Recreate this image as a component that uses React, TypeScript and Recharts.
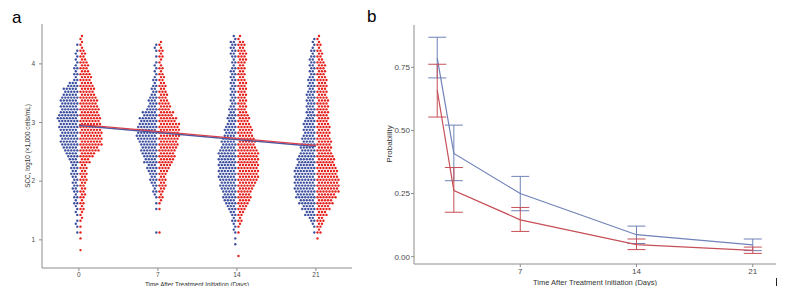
import React from 'react';
import {
  ScatterChart,
  Scatter,
  ComposedChart,
  Line,
  ErrorBar,
  XAxis,
  YAxis,
} from 'recharts';

// ---- panel a: SCC beeswarm, dots counted per 0.1 log10 band (lower edges 0.7 .. 4.4)
const days = [0, 7, 14, 21];
const binStart = 0.7;
const binStep = 0.1;

const day0Blue = [0, 0, 0, 0, 1, 2, 1, 2, 2, 3, 3, 4, 4, 4, 5, 5, 6, 8, 10, 12, 12, 12, 13, 14, 13, 12, 12, 11, 10, 7, 3, 3, 3, 2, 2, 1, 1, 0];
const day0Red = [0, 1, 0, 1, 1, 1, 2, 2, 3, 3, 4, 4, 4, 5, 5, 5, 7, 10, 13, 15, 15, 15, 14, 14, 13, 13, 12, 11, 10, 9, 8, 7, 6, 5, 4, 3, 2, 2];
const day7Blue = [0, 0, 0, 0, 1, 0, 0, 0, 1, 1, 2, 3, 4, 5, 6, 7, 9, 10, 11, 12, 14, 14, 13, 12, 10, 7, 6, 5, 4, 3, 3, 2, 2, 1, 1, 2, 1, 0];
const day7Red = [0, 0, 0, 0, 1, 0, 0, 0, 1, 2, 3, 4, 5, 5, 6, 8, 10, 11, 12, 13, 14, 14, 14, 12, 10, 8, 7, 6, 5, 5, 4, 3, 3, 2, 3, 3, 2, 0];
const day14Blue = [0, 0, 1, 1, 2, 2, 3, 4, 6, 8, 9, 10, 11, 12, 12, 12, 12, 12, 11, 10, 9, 8, 7, 6, 5, 5, 4, 4, 4, 4, 4, 4, 3, 3, 4, 4, 4, 2];
const day14Red = [1, 0, 0, 0, 1, 2, 3, 4, 6, 8, 9, 10, 12, 14, 14, 14, 14, 14, 13, 12, 11, 10, 9, 8, 7, 6, 6, 6, 6, 6, 5, 5, 5, 6, 6, 5, 5, 2];
const day21Blue = [0, 0, 0, 0, 1, 2, 4, 7, 9, 11, 13, 14, 14, 14, 14, 13, 12, 11, 10, 9, 9, 8, 8, 7, 6, 6, 6, 6, 5, 5, 5, 4, 4, 4, 3, 3, 2, 1];
const day21Red = [0, 0, 0, 1, 3, 4, 5, 7, 9, 11, 13, 15, 15, 15, 14, 13, 12, 11, 10, 10, 9, 9, 9, 8, 8, 8, 8, 7, 7, 7, 7, 6, 6, 5, 4, 3, 3, 2];

// fitted lines (day 0 and day 21)
const fitDays = [0, 21];
const blueFit = [2.95, 2.59];
const redFit = [2.97, 2.61];

// ---- panel b: probability with intervals
const probDays = [2, 3, 7, 14, 21];
const blueMean = [0.786, 0.409, 0.25, 0.087, 0.047];
const blueLow = [0.708, 0.301, 0.182, 0.052, 0.024];
const blueHigh = [0.869, 0.521, 0.318, 0.121, 0.07];
const redMean = [0.659, 0.262, 0.146, 0.048, 0.025];
const redLow = [0.553, 0.176, 0.1, 0.028, 0.013];
const redHigh = [0.762, 0.353, 0.195, 0.07, 0.038];

const BLUE_DOT = '#3d4f9f';
const RED_DOT = '#e5221d';
const BLUE_LINE = '#7082b8';
const RED_LINE = '#c64f58';
const AXIS = '#8c8c8c';
const TICK = '#4a4a4a';
const TITLE = '#333';

// spread the counted dots of each band into a half swarm (left = blue, right = red)
function swarm(countsByDay: number[][], side: number) {
  const pts: { x: number; y: number; dx: number }[] = [];
  countsByDay.forEach((counts, d) => {
    counts.forEach((n, i) => {
      const lo = binStart + i * binStep;
      for (let k = 0; k < n; k++) {
        const row = k % 2;
        const col = Math.floor(k / 2);
        pts.push({
          x: days[d],
          y: lo + binStep * (0.25 + 0.5 * row),
          dx: side * (1.6 + col * 3 + row * 1.5),
        });
      }
    });
  });
  return pts;
}

const bluePts = swarm([day0Blue, day7Blue, day14Blue, day21Blue], -1);
const redPts = swarm([day0Red, day7Red, day14Red, day21Red], 1);
const blueFitData = fitDays.map((x, i) => ({ x, y: blueFit[i] }));
const redFitData = fitDays.map((x, i) => ({ x, y: redFit[i] }));

const probData = probDays.map((day, i) => ({
  day,
  blue: blueMean[i],
  red: redMean[i],
  blueErr: [blueMean[i] - blueLow[i], blueHigh[i] - blueMean[i]],
  redErr: [redMean[i] - redLow[i], redHigh[i] - redMean[i]],
}));

const dotShape = (color: string) => (props: any) => {
  const dx = props.payload?.dx ?? props.dx ?? 0;
  return <circle cx={props.cx + dx} cy={props.cy} r={1.2} fill={color} />;
};

const noShape = () => <g />;

// fixed-position axis titles
const title = (text: string, x: number, y: number, size: number, rotate = false) => () => (
  <text
    x={x}
    y={y}
    transform={rotate ? `rotate(-90 ${x} ${y})` : undefined}
    textAnchor="middle"
    dominantBaseline="central"
    fontSize={size}
    fill={TITLE}
  >
    {text}
  </text>
);

const App: React.FC = () => {
  return (
    <div
      style={{
        position: 'relative',
        width: 792,
        height: 294,
        margin: -8,
        background: '#fff',
        fontFamily: '"Liberation Sans", Arial, sans-serif',
      }}
    >
      <div style={{ position: 'absolute', left: 12, top: 9, fontSize: 17, lineHeight: 1 }}>a</div>
      <div style={{ position: 'absolute', left: 367, top: 8, fontSize: 17, lineHeight: 1 }}>b</div>

      <div style={{ position: 'absolute', left: 0, top: 0 }}>
        <ScatterChart width={360} height={294} margin={{ top: 24, right: 8, bottom: 0, left: 0 }}>
          <XAxis
            type="number"
            dataKey="x"
            domain={[-3.27, 24.2]}
            ticks={days}
            height={26}
            tickSize={3}
            tickMargin={1}
            stroke={AXIS}
            tick={{ fontSize: 6.5, fill: TICK }}
            label={{ content: title('Time After Treatment Initiation (Days)', 197, 284.5, 6.3) }}
          />
          <YAxis
            type="number"
            dataKey="y"
            domain={[0.52, 4.68]}
            ticks={[1, 2, 3, 4]}
            width={42}
            tickSize={3}
            tickMargin={4}
            stroke={AXIS}
            tick={{ fontSize: 6.5, fill: TICK }}
            label={{ content: title('SCC, log10 (×1,000 cells/mL)', 27, 146, 6.4, true) }}
          />
          <Scatter data={bluePts} shape={dotShape(BLUE_DOT)} isAnimationActive={false} />
          <Scatter data={redPts} shape={dotShape(RED_DOT)} isAnimationActive={false} />
          <Scatter data={blueFitData} line={{ stroke: '#4b5aa6', strokeWidth: 1.5 }} shape={noShape} isAnimationActive={false} />
          <Scatter data={redFitData} line={{ stroke: '#d8424a', strokeWidth: 1.3 }} shape={noShape} isAnimationActive={false} />
        </ScatterChart>
      </div>

      <div style={{ position: 'absolute', left: 370, top: 0 }}>
        <ComposedChart width={420} height={294} data={probData} margin={{ top: 25, right: 14, bottom: 0, left: 0 }}>
          <XAxis
            type="number"
            dataKey="day"
            domain={[0.6, 22.4]}
            ticks={[7, 14, 21]}
            height={30}
            tickSize={3}
            tickMargin={1}
            stroke={AXIS}
            tick={{ fontSize: 8, fill: TICK }}
            label={{ content: title('Time After Treatment Initiation (Days)', 225, 282.5, 7.5) }}
          />
          <YAxis
            type="number"
            domain={[-0.029, 0.9175]}
            ticks={[0, 0.25, 0.5, 0.75]}
            tickFormatter={(v: number) => v.toFixed(2)}
            width={44}
            tickSize={3}
            tickMargin={1}
            stroke={AXIS}
            tick={{ fontSize: 8, fill: TICK }}
            label={{ content: title('Probability', 19, 144, 8, true) }}
          />
          <Line dataKey="blue" stroke={BLUE_LINE} strokeWidth={1.2} dot={false} isAnimationActive={false}>
            <ErrorBar dataKey="blueErr" width={9} stroke={BLUE_LINE} strokeWidth={1} />
          </Line>
          <Line dataKey="red" stroke={RED_LINE} strokeWidth={1.2} dot={false} isAnimationActive={false}>
            <ErrorBar dataKey="redErr" width={9} stroke={RED_LINE} strokeWidth={1} />
          </Line>
        </ComposedChart>
      </div>

      <div style={{ position: 'absolute', left: 776, top: 278, width: 1, height: 9, background: '#222' }} />
    </div>
  );
};

export default App;
